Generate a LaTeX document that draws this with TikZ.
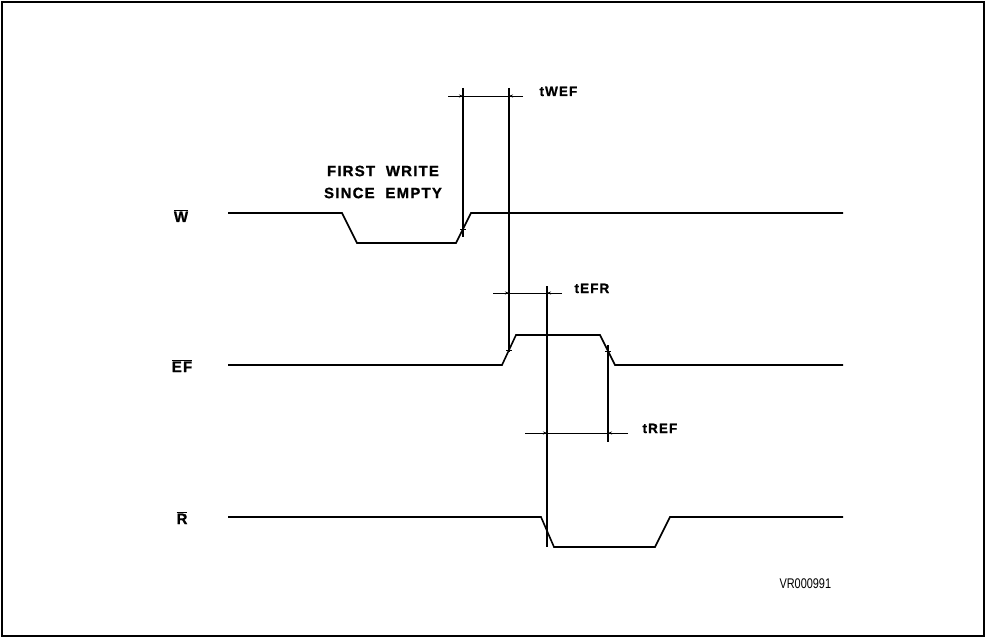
\documentclass[tikz,border=0pt]{standalone}
\usepackage{fontspec}
\setmainfont{Liberation Sans}
\newfontfamily\tagfont[LetterSpace=8,BoldFeatures={FakeBold=1}]{Liberation Sans}
\newfontfamily\codefont[FakeStretch=0.78]{Liberation Sans}
\usetikzlibrary{arrows.meta}

\begin{document}
\begin{tikzpicture}[x=1pt,y=-1pt,>={Stealth[length=4pt,width=3pt]},
  % 全局设定: 1pt 对应参考图的一个像素, y 轴朝下
  % 以下定义了几个主要的style:
  signal/.style={line width=1.6pt,line join=miter},
  guide/.style={line width=1.1pt},
  dimline/.style={line width=0.8pt},
  tick/.style={line width=0.8pt},
  sig name/.style={anchor=base,font=\tagfont\bfseries\fontsize{15}{17}\selectfont},
  time name/.style={anchor=base west,font=\tagfont\bfseries\fontsize{13.5}{15}\selectfont}]

  \useasboundingbox (0,0) rectangle (987,639);
  \draw [line width=2pt] (2,2) rectangle (984,636);

  % 三条信号线
  \draw [signal] (228,213) -- (342,213) -- (357,243) -- (456,243) -- (471,213) -- (843,213);
  \draw [signal] (228,365) -- (502,365) -- (516,335) -- (600,335) -- (615,365) -- (843,365);
  \draw [signal] (228,517) -- (541,517) -- (554,547) -- (655,547) -- (670,517) -- (843,517);

  \node [sig name] (w)  at (181,222) {$\overline{\mbox{W}}$};
  \node [sig name] (ef) at (182,372) {$\overline{\mbox{EF}}$};
  \node [sig name] (r)  at (182,524) {$\overline{\mbox{R}}$};

  \node [align=center,font=\tagfont\bfseries\fontsize{15}{22}\selectfont] (note) at (383,182)
    {FIRST\ \ WRITE\\SINCE\ \ EMPTY};

  % 边沿上的交点
  \coordinate (wup)   at (463,229);
  \coordinate (efup)  at (509,350);
  \coordinate (efdn)  at (608,351);
  \coordinate (rdn)   at (547,531);

  % 竖直的参考线
  \draw [guide] (463,88) -- (463,237);
  \draw [guide] (509,88) -- (509,352);
  \draw [guide] (547,286) -- (547,547);
  \draw [guide] (608,345) -- (608,442);

  \foreach \p in {wup,efup,efdn}
    \draw [tick] ([xshift=-3pt]\p) -- ([xshift=3pt]\p);

  % tWEF
  \draw [dimline] (448,96) -- (523,96);
  \draw [dimline,->] (448,96) -- (463,96);
  \draw [dimline,->] (523,96) -- (509,96);
  \node [time name] (twef) at (536,96) {tWEF};

  % tEFR
  \draw [dimline] (493,293) -- (562,293);
  \draw [dimline,->] (493,293) -- (509,293);
  \draw [dimline,->] (562,293) -- (547,293);
  \node [time name] (tefr) at (571,293) {tEFR};

  % tREF
  \draw [dimline] (525,433) -- (628,433);
  \draw [dimline,->] (525,433) -- (547,433);
  \draw [dimline,->] (628,433) -- (608,433);
  \node [time name] (tref) at (639,433) {tREF};

  \node [anchor=base west,font=\codefont\fontsize{14}{16}\selectfont] (code) at (776,588) {VR000991};

\end{tikzpicture}
\end{document}
